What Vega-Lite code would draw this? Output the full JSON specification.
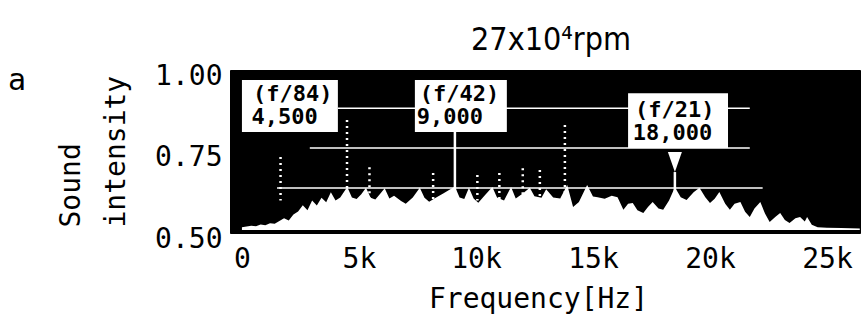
{
  "$schema": "https://vega.github.io/schema/vega-lite/v6.json",
  "autosize": "none",
  "width": 630,
  "height": 163,
  "padding": {"left": 230, "top": 70, "right": 2, "bottom": 90},
  "background": "white",
  "title": {
    "text": "27x10⁴rpm",
    "frame": "group",
    "anchor": "middle",
    "dx": 6,
    "dy": 41,
    "offset": 21,
    "baseline": "alphabetic",
    "font": "DejaVu Sans Condensed, DejaVu Sans Mono",
    "fontSize": 32,
    "fontWeight": "normal",
    "color": "black"
  },
  "config": {
    "view": {"fill": "black", "stroke": "black"},
    "font": "DejaVu Sans Mono"
  },
  "datasets": {
    "spectrum": [
      {"freq": 0, "intensity": 0.518}, {"freq": 200, "intensity": 0.520}, {"freq": 400, "intensity": 0.522},
      {"freq": 600, "intensity": 0.521}, {"freq": 800, "intensity": 0.526}, {"freq": 1000, "intensity": 0.524},
      {"freq": 1200, "intensity": 0.530}, {"freq": 1400, "intensity": 0.528}, {"freq": 1600, "intensity": 0.537},
      {"freq": 1800, "intensity": 0.545}, {"freq": 2000, "intensity": 0.538}, {"freq": 2200, "intensity": 0.557},
      {"freq": 2400, "intensity": 0.566}, {"freq": 2600, "intensity": 0.585}, {"freq": 2800, "intensity": 0.570},
      {"freq": 3000, "intensity": 0.600}, {"freq": 3200, "intensity": 0.584}, {"freq": 3400, "intensity": 0.608},
      {"freq": 3600, "intensity": 0.594}, {"freq": 3800, "intensity": 0.625}, {"freq": 4000, "intensity": 0.600},
      {"freq": 4200, "intensity": 0.609}, {"freq": 4500, "intensity": 0.641}, {"freq": 4700, "intensity": 0.609},
      {"freq": 4900, "intensity": 0.604}, {"freq": 5100, "intensity": 0.619}, {"freq": 5300, "intensity": 0.639},
      {"freq": 5500, "intensity": 0.608}, {"freq": 5700, "intensity": 0.603}, {"freq": 5900, "intensity": 0.620},
      {"freq": 6100, "intensity": 0.637}, {"freq": 6300, "intensity": 0.606}, {"freq": 6500, "intensity": 0.614},
      {"freq": 6800, "intensity": 0.598}, {"freq": 7000, "intensity": 0.590}, {"freq": 7300, "intensity": 0.609},
      {"freq": 7600, "intensity": 0.639}, {"freq": 7800, "intensity": 0.608}, {"freq": 8000, "intensity": 0.596},
      {"freq": 8300, "intensity": 0.609}, {"freq": 8600, "intensity": 0.621}, {"freq": 9100, "intensity": 0.643},
      {"freq": 9300, "intensity": 0.609}, {"freq": 9500, "intensity": 0.604}, {"freq": 9700, "intensity": 0.639},
      {"freq": 9900, "intensity": 0.606}, {"freq": 10100, "intensity": 0.593}, {"freq": 10400, "intensity": 0.617},
      {"freq": 10700, "intensity": 0.641}, {"freq": 10900, "intensity": 0.609}, {"freq": 11200, "intensity": 0.600},
      {"freq": 11500, "intensity": 0.641}, {"freq": 11700, "intensity": 0.606}, {"freq": 12000, "intensity": 0.621},
      {"freq": 12300, "intensity": 0.639}, {"freq": 12500, "intensity": 0.613}, {"freq": 12800, "intensity": 0.608},
      {"freq": 13000, "intensity": 0.634}, {"freq": 13300, "intensity": 0.609}, {"freq": 13600, "intensity": 0.606},
      {"freq": 13900, "intensity": 0.647}, {"freq": 14150, "intensity": 0.580}, {"freq": 14400, "intensity": 0.595},
      {"freq": 14750, "intensity": 0.647}, {"freq": 15000, "intensity": 0.612}, {"freq": 15200, "intensity": 0.610},
      {"freq": 15500, "intensity": 0.605}, {"freq": 15800, "intensity": 0.614}, {"freq": 16050, "intensity": 0.610},
      {"freq": 16300, "intensity": 0.571}, {"freq": 16500, "intensity": 0.590}, {"freq": 16700, "intensity": 0.592},
      {"freq": 16900, "intensity": 0.570}, {"freq": 17150, "intensity": 0.561}, {"freq": 17350, "intensity": 0.580},
      {"freq": 17550, "intensity": 0.595}, {"freq": 17800, "intensity": 0.575}, {"freq": 18000, "intensity": 0.571},
      {"freq": 18250, "intensity": 0.600}, {"freq": 18500, "intensity": 0.640}, {"freq": 18750, "intensity": 0.610},
      {"freq": 19000, "intensity": 0.601}, {"freq": 19300, "intensity": 0.625}, {"freq": 19550, "intensity": 0.639},
      {"freq": 19800, "intensity": 0.610}, {"freq": 20000, "intensity": 0.592}, {"freq": 20200, "intensity": 0.605},
      {"freq": 20400, "intensity": 0.626}, {"freq": 20650, "intensity": 0.590}, {"freq": 20850, "intensity": 0.571},
      {"freq": 21050, "intensity": 0.590}, {"freq": 21300, "intensity": 0.595}, {"freq": 21500, "intensity": 0.565},
      {"freq": 21700, "intensity": 0.549}, {"freq": 21900, "intensity": 0.575}, {"freq": 22150, "intensity": 0.595},
      {"freq": 22350, "intensity": 0.560}, {"freq": 22550, "intensity": 0.534}, {"freq": 22800, "intensity": 0.550},
      {"freq": 23000, "intensity": 0.561}, {"freq": 23200, "intensity": 0.540}, {"freq": 23400, "intensity": 0.531},
      {"freq": 23650, "intensity": 0.545}, {"freq": 23850, "intensity": 0.549}, {"freq": 24050, "intensity": 0.535},
      {"freq": 24150, "intensity": 0.549}, {"freq": 24350, "intensity": 0.525}, {"freq": 24600, "intensity": 0.518},
      {"freq": 25000, "intensity": 0.516}, {"freq": 25600, "intensity": 0.515}, {"freq": 26400, "intensity": 0.514}
    ],
    "levels": [
      {"level": 0.883, "from": 4100, "to": 21700},
      {"level": 0.761, "from": 2900, "to": 21700},
      {"level": 0.638, "from": 1500, "to": 22250}
    ],
    "dottedPeaks": [
      {"freq": 1650, "peak": 0.733}, {"freq": 4490, "peak": 0.847}, {"freq": 5450, "peak": 0.702},
      {"freq": 8170, "peak": 0.684}, {"freq": 10060, "peak": 0.678}, {"freq": 11000, "peak": 0.684},
      {"freq": 12000, "peak": 0.699}, {"freq": 12730, "peak": 0.693}, {"freq": 13800, "peak": 0.831}
    ],
    "solidPeaks": [
      {"freq": 9100, "peak": 0.81}, {"freq": 18500, "peak": 0.687}
    ],
    "boxes": [
      {"x1": 0, "x2": 4100, "top": 0.969, "bottom": 0.810},
      {"x1": 7390, "x2": 11320, "top": 0.969, "bottom": 0.810},
      {"x1": 16500, "x2": 20770, "top": 0.929, "bottom": 0.761}
    ],
    "labels": [
      {"freq": 470, "level": 0.926, "text": "(f/84)"},
      {"freq": 410, "level": 0.856, "text": "4,500"},
      {"freq": 7600, "level": 0.926, "text": "(f/42)"},
      {"freq": 7470, "level": 0.856, "text": "9,000"},
      {"freq": 16800, "level": 0.877, "text": "(f/21)"},
      {"freq": 16700, "level": 0.807, "text": "18,000"}
    ],
    "arrow": [{"freq": 18500, "level": 0.718}],
    "panel": [{"freq": -9615, "level": 0.966, "text": "a"}]
  },
  "layer": [
    {
      "data": {"name": "spectrum"},
      "mark": {"type": "area", "color": "white", "interpolate": "linear"},
      "encoding": {
        "x": {
          "field": "freq", "type": "quantitative",
          "scale": {"domain": [-510, 26410], "nice": false, "zero": false},
          "axis": {
            "values": [0, 5000, 10000, 15000, 20000, 25000],
            "labelExpr": "datum.value == 0 ? '0' : (datum.value / 1000) + 'k'",
            "domain": false, "ticks": false, "grid": false,
            "labelFont": "DejaVu Sans Mono", "labelFontSize": 28, "labelColor": "black",
            "labelPadding": 12, "labelFlush": false,
            "title": "Frequency[Hz]",
            "titleFont": "DejaVu Sans Mono", "titleFontSize": 28, "titleFontWeight": "normal",
            "titleColor": "black", "titleX": 308, "titleY": 74, "titleBaseline": "alphabetic",
            "titleAlign": "center"
          }
        },
        "y": {
          "field": "intensity", "type": "quantitative",
          "scale": {"domain": [0.5, 1.0], "nice": false, "zero": false},
          "axis": {
            "values": [0.5, 0.75, 1.0],
            "format": ".2f",
            "domain": false, "ticks": false, "grid": false,
            "labelFont": "DejaVu Sans Mono", "labelFontSize": 28, "labelColor": "black",
            "labelPadding": 8, "labelOffset": 6,
            "title": ["Sound", "intensity"],
            "titleFont": "DejaVu Sans Mono", "titleFontSize": 28, "titleFontWeight": "normal",
            "titleColor": "black", "titleAngle": -90, "titleAlign": "left",
            "titleBaseline": "alphabetic", "titleLineHeight": 45,
            "titleX": -151, "titleY": 157
          }
        },
        "y2": {"datum": 0.509}
      }
    },
    {
      "data": {"name": "levels"},
      "mark": {"type": "rule", "color": "white", "strokeWidth": 1.5},
      "encoding": {
        "x": {"field": "from", "type": "quantitative"},
        "x2": {"field": "to"},
        "y": {"field": "level", "type": "quantitative"}
      }
    },
    {
      "data": {"name": "dottedPeaks"},
      "mark": {"type": "rule", "color": "white", "strokeWidth": 2.5, "strokeDash": [2, 4]},
      "encoding": {
        "x": {"field": "freq", "type": "quantitative"},
        "y": {"field": "peak", "type": "quantitative"},
        "y2": {"datum": 0.6}
      }
    },
    {
      "data": {"name": "solidPeaks"},
      "mark": {"type": "rule", "color": "white", "strokeWidth": 2.5},
      "encoding": {
        "x": {"field": "freq", "type": "quantitative"},
        "y": {"field": "peak", "type": "quantitative"},
        "y2": {"datum": 0.6}
      }
    },
    {
      "data": {"name": "boxes"},
      "mark": {"type": "rect", "color": "white"},
      "encoding": {
        "x": {"field": "x1", "type": "quantitative"},
        "x2": {"field": "x2"},
        "y": {"field": "top", "type": "quantitative"},
        "y2": {"field": "bottom"}
      }
    },
    {
      "data": {"name": "labels"},
      "mark": {"type": "text", "align": "left", "baseline": "middle", "font": "DejaVu Sans Mono", "fontSize": 22, "fontWeight": "bold", "color": "black"},
      "encoding": {
        "x": {"field": "freq", "type": "quantitative"},
        "y": {"field": "level", "type": "quantitative"},
        "text": {"field": "text"}
      }
    },
    {
      "data": {"name": "arrow"},
      "mark": {"type": "point", "shape": "M-0.7,-1L0.7,-1L0,1Z", "size": 400, "filled": true, "color": "white", "opacity": 1},
      "encoding": {
        "x": {"field": "freq", "type": "quantitative"},
        "y": {"field": "level", "type": "quantitative"}
      }
    },
    {
      "data": {"name": "panel"},
      "mark": {"type": "text", "align": "center", "baseline": "middle", "font": "DejaVu Sans Mono", "fontSize": 30, "color": "black"},
      "encoding": {
        "x": {"field": "freq", "type": "quantitative"},
        "y": {"field": "level", "type": "quantitative"},
        "text": {"field": "text"}
      }
    }
  ]
}
